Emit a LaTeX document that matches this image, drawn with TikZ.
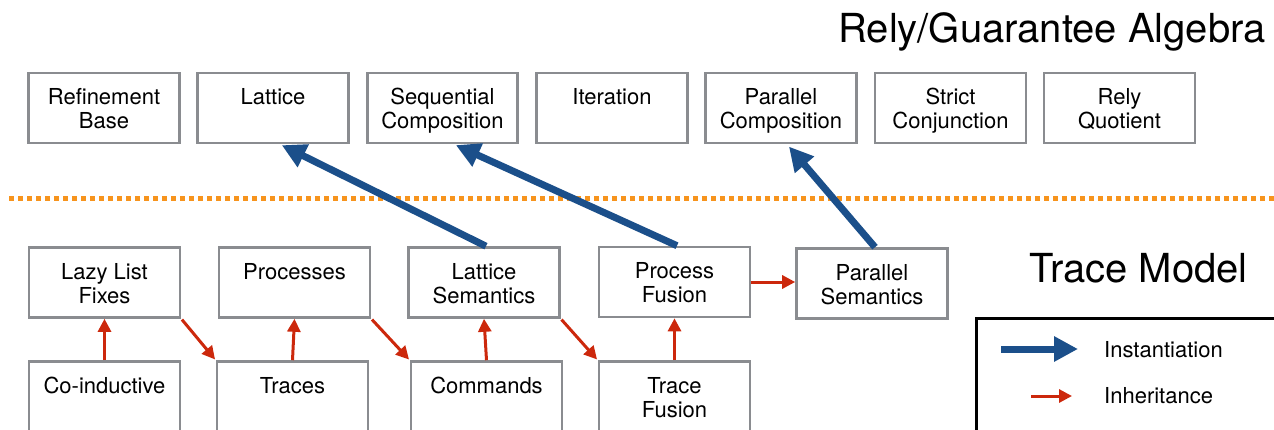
\documentclass[tikz,border=0pt]{standalone}
\usepackage{fontspec}
\setmainfont{TeX Gyre Heros}
\usetikzlibrary{arrows.meta}
\definecolor{boxgray}{RGB}{138,140,144}
\definecolor{instblue}{RGB}{27,79,138}
\definecolor{inhred}{RGB}{204,40,12}
\definecolor{sepor}{RGB}{247,148,29}
\newcommand{\bt}[1]{\parbox[c][40pt][t]{150pt}{\fontsize{22}{24}\selectfont\centering\strut #1\par}}
\tikzset{
  box/.style={draw=boxgray, line width=2.6pt, inner sep=0pt, minimum width=151pt, minimum height=70pt},
  inst/.style={draw=instblue, line width=7pt, -{Triangle[length=24pt,width=24pt]}},
  inh/.style={draw=inhred, line width=3pt, -{Triangle[length=13pt,width=13pt]}},
  title/.style={inner sep=0pt, font=\fontsize{40}{48}\selectfont},
  legtext/.style={inner sep=0pt, anchor=base west, font=\fontsize{22}{26}\selectfont}
}
\begin{document}
\begin{tikzpicture}[x=1pt,y=-1pt]
\clip (0,0) rectangle (1274,429);
% titles
\node[title, anchor=base east] (rgtitle) at (1266,42) {Rely/Guarantee Algebra};
\node[title, anchor=base west] (tmtitle) at (1029,282) {Trace Model};
% separator
\coordinate (sepL) at (9,198);
\coordinate (sepR) at (1274,198);
\draw[sepor, line width=5pt, dash pattern=on 5pt off 4pt] (sepL) -- (sepR);
% top row
\node[box] (ref) at (104,108) {\bt{Refinement\\Base}};
\node[box] (lat) at (273,108) {\bt{Lattice}};
\node[box, minimum width=144pt] (seq) at (442.5,108) {\bt{Sequential\\Composition}};
\node[box] (iter) at (612,108) {\bt{Iteration}};
\node[box] (par) at (781,108) {\bt{Parallel\\Composition}};
\node[box] (strict) at (950.5,108) {\bt{Strict\\Conjunction}};
\node[box] (rely) at (1119.5,108) {\bt{Rely\\Quotient}};
% middle row
\node[box] (lazy) at (104.5,282.5) {\bt{Lazy List\\Fixes}};
\node[box] (proc) at (294.5,282.5) {\bt{Processes}};
\node[box] (latsem) at (484,282.5) {\bt{Lattice\\Semantics}};
\node[box] (pfus) at (674.5,282) {\bt{Process\\Fusion}};
\node[box] (parsem) at (872,283.5) {\bt{Parallel\\Semantics}};
% bottom row
\node[box] (coind) at (104.5,396.5) {\bt{Co-inductive}};
\node[box] (traces) at (292.5,396.5) {\bt{Traces}};
\node[box] (cmds) at (486.5,396.5) {\bt{Commands}};
\node[box] (tfus) at (674.5,396.5) {\bt{Trace\\Fusion}};
% inheritance arrows
\draw[inh] (coind.north) -- (lazy.south);
\draw[inh] (traces.north) -- (proc.south);
\draw[inh] (cmds.north) -- (latsem.south);
\draw[inh] (tfus.north) -- (pfus.south);
\draw[inh, shorten <=1pt, shorten >=1pt] (lazy.south east) -- (traces.north west);
\draw[inh, shorten <=1pt, shorten >=1pt] (proc.south east) -- (cmds.north west);
\draw[inh, shorten <=1pt, shorten >=1pt] (latsem.south east) -- (tfus.north west);
\draw[inh] (pfus.east) -- (pfus.east -| parsem.west);
% instantiation arrows
\draw[inst, shorten >=2pt] ([xshift=2pt]latsem.north) -- ([xshift=7pt]lat.south);
\draw[inst, shorten >=2pt] ([xshift=2.5pt]pfus.north) -- ([xshift=11.5pt]seq.south);
\draw[inst, shorten >=3pt] ([xshift=3pt]parsem.north) -- ([xshift=6pt]par.south);
% legend
\node[draw=black, line width=3pt, minimum width=340pt, minimum height=150pt, anchor=north west] (legend) at (974.5,316.5) {};
\coordinate (lgb1) at (1001,349);
\coordinate (lgb2) at (1078,349);
\coordinate (lgr1) at (1031,396);
\coordinate (lgr2) at (1072,396);
\draw[inst] (lgb1) -- (lgb2);
\draw[inh] (lgr1) -- (lgr2);
\node[legtext] (lginst) at (1104,357) {Instantiation};
\node[legtext] (lginh) at (1104,403) {Inheritance};
\end{tikzpicture}
\end{document}
